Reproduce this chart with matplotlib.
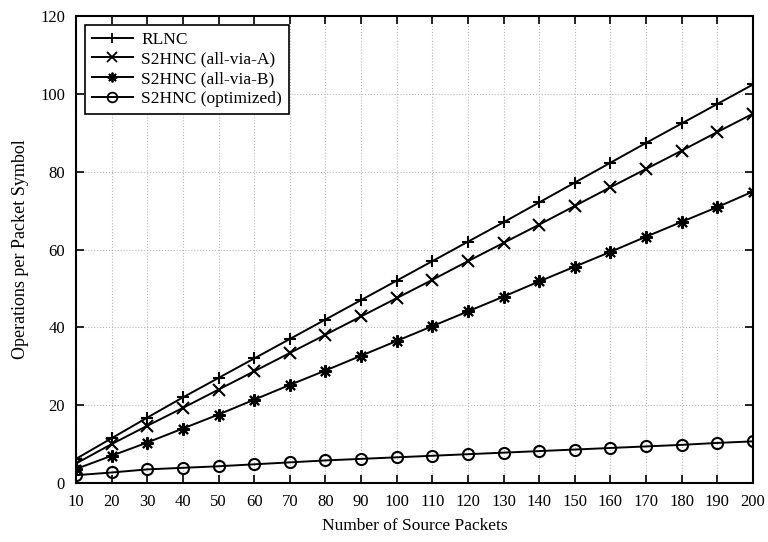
import matplotlib.pyplot as plt

plt.rcParams['font.family'] = ['Liberation Serif', 'DejaVu Serif']

packets = [10, 20, 30, 40, 50, 60, 70, 80, 90, 100,
           110, 120, 130, 140, 150, 160, 170, 180, 190, 200]

rlnc = [6.2, 11.5, 16.8, 22.0, 27.0, 32.0, 37.0, 42.0, 47.0, 52.0,
        57.0, 62.0, 67.0, 72.1, 77.2, 82.3, 87.4, 92.4, 97.4, 102.4]
via_a = [5.0, 10.0, 14.7, 19.3, 24.0, 28.7, 33.4, 38.1, 42.8, 47.5,
         52.2, 57.0, 61.7, 66.4, 71.2, 76.0, 80.7, 85.4, 90.2, 94.9]
via_b = [3.6, 7.0, 10.4, 14.0, 17.6, 21.4, 25.2, 28.9, 32.7, 36.5,
         40.3, 44.1, 47.9, 51.8, 55.6, 59.4, 63.3, 67.1, 70.9, 74.9]
optimized = [2.0, 2.7, 3.5, 3.9, 4.3, 4.8, 5.3, 5.8, 6.2, 6.6,
             7.0, 7.4, 7.8, 8.2, 8.6, 9.0, 9.4, 9.8, 10.3, 10.7]

fig = plt.figure(figsize=(7.68, 5.42), dpi=100)
ax = fig.add_axes([76 / 768, 1 - 483 / 542, (753 - 76) / 768, (483 - 16) / 542])

ax.plot(packets, rlnc, color='black', lw=1.4, marker='+', ms=9, mew=1.5, label='RLNC')
ax.plot(packets, via_a, color='black', lw=1.4, marker='x', ms=8, mew=1.5, label='S2HNC (all-via-A)')
ax.plot(packets, via_b, color='black', lw=1.4, marker=(8, 2, 0), ms=9, mew=1.5, label='S2HNC (all-via-B)')
ax.plot(packets, optimized, color='black', lw=1.4, marker='o', ms=8, mew=1.5, mfc='none', label='S2HNC (optimized)')

ax.set_xlim(10, 200)
ax.set_ylim(0, 120)
ax.set_xticks(packets)
ax.set_yticks(range(0, 121, 20))
ax.tick_params(direction='in', top=True, right=True, length=6, width=1.2, labelsize=12, pad=8)
for s in ax.spines.values():
    s.set_linewidth(1.5)
ax.grid(True, linestyle=':', color='#bbbbbb', lw=0.8)

ax.set_xlabel('Number of Source Packets', fontsize=12.5, labelpad=6)
ax.set_ylabel('Operations per Packet Symbol', fontsize=13, labelpad=8)

leg = ax.legend(loc='upper left', fontsize=12.5, fancybox=False, framealpha=1,
                edgecolor='black', handlelength=2.4, handletextpad=0.45,
                borderaxespad=0.5, labelspacing=0.2, borderpad=0.4)
leg.get_frame().set_linewidth(1.2)
for h in leg.legend_handles:
    h.set_markersize(7)
    h.set_markeredgewidth(1.3)

fig.savefig('out.png', dpi=100)
